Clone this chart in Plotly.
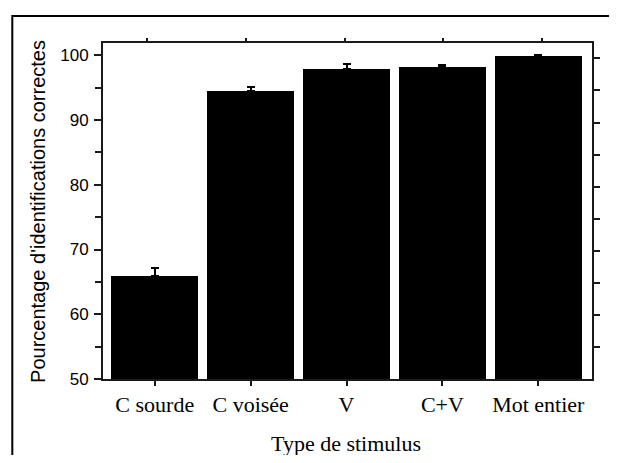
import plotly.graph_objects as go

categories = ["C sourde", "C voisée", "V", "C+V", "Mot entier"]
values = [65.85, 94.45, 97.9, 98.2, 99.85]
errors = [1.3, 0.65, 0.75, 0.25, 0.2]
y_ticks = [50, 60, 70, 80, 90, 100]
right_ticks = [55, 60, 65, 70, 75, 80, 85, 90, 95, 100]

# page body has an 8px margin; size the figure so it fits inside the 617x463 window
OFF = 8
W, H = 617 - 2 * OFF, 463 - 2 * OFF
PL, PT, PR, PB = 103, 43, 599, 379          # plot area in screen pixels
L, T = PL - OFF, PT - OFF
pw, ph = PR - PL, PB - PT
R, B = W - L - pw, H - T - ph

def px_x(p):
    return (p - PL) / pw

def px_y(p):
    return (PB - p) / ph

fig = go.Figure()
fig.add_trace(go.Bar(
    x=list(range(len(categories))), y=values, width=0.91,
    marker=dict(color="black", line=dict(width=0)),
    error_y=dict(type="data", array=errors, arrayminus=[0] * len(errors),
                 symmetric=False, color="black", thickness=2, width=4),
    showlegend=False, hoverinfo="skip",
))
# invisible trace for the mirrored top/right axes
fig.add_trace(go.Scatter(x=[0], y=[60], xaxis="x2", yaxis="y2", mode="markers",
                         marker=dict(opacity=0), showlegend=False, hoverinfo="skip"))

axis_col = "#1a1a1a"
fig.update_layout(
    width=W, height=H,
    margin=dict(l=L, r=R, t=T, b=B, pad=0),
    paper_bgcolor="white", plot_bgcolor="white",
    bargap=0,
    xaxis=dict(
        range=[-0.54, 4.56], tickvals=list(range(len(categories))), ticktext=categories,
        showline=True, linewidth=2, linecolor=axis_col, mirror=True,
        ticks="outside", ticklen=5, tickwidth=1.5, tickcolor=axis_col,
        showgrid=False, zeroline=False,
        tickfont=dict(family="Liberation Serif", size=22, color="black"),
    ),
    xaxis2=dict(
        overlaying="x", side="top", anchor="y",
        range=[-0.441, 4.501], tickvals=list(range(len(categories))),
        showticklabels=False, ticks="outside", ticklen=4, tickwidth=1.5, tickcolor=axis_col,
        showline=False, showgrid=False, zeroline=False,
    ),
    yaxis=dict(
        range=[50, 101.9], tickvals=y_ticks,
        showline=True, linewidth=2, linecolor=axis_col, mirror=True,
        ticks="outside", ticklen=7, tickwidth=1.5, tickcolor=axis_col,
        minor=dict(ticks="outside", ticklen=6, tickwidth=1.5, tickcolor=axis_col,
                   dtick=5, tick0=55, showgrid=False),
        showgrid=False, zeroline=False,
        ticklabelstandoff=2,
        tickfont=dict(family="Liberation Sans", size=17, color="black"),
    ),
    yaxis2=dict(
        overlaying="y", side="right", anchor="x",
        range=[50, 102.4], tickvals=right_ticks,
        showticklabels=False, ticks="outside", ticklen=7, tickwidth=1.5, tickcolor=axis_col,
        showline=False, showgrid=False, zeroline=False,
    ),
    shapes=[
        dict(type="rect", xref="paper", yref="paper",
             x0=px_x(11), x1=px_x(660), y0=px_y(16), y1=px_y(520),
             line=dict(color="black", width=2), fillcolor="rgba(0,0,0,0)", layer="below"),
    ],
    annotations=[
        dict(text="Pourcentage d'identifications correctes", xref="paper", yref="paper",
             x=px_x(37), y=px_y(211), xanchor="center", yanchor="middle", textangle=-90,
             showarrow=False, font=dict(family="Liberation Sans", size=20, color="black")),
        dict(text="Type de stimulus", xref="paper", yref="paper",
             x=px_x(349), y=px_y(443), xanchor="center", yanchor="middle",
             showarrow=False, font=dict(family="Liberation Serif", size=22, color="black")),
    ],
)

fig.write_html("out.html")
